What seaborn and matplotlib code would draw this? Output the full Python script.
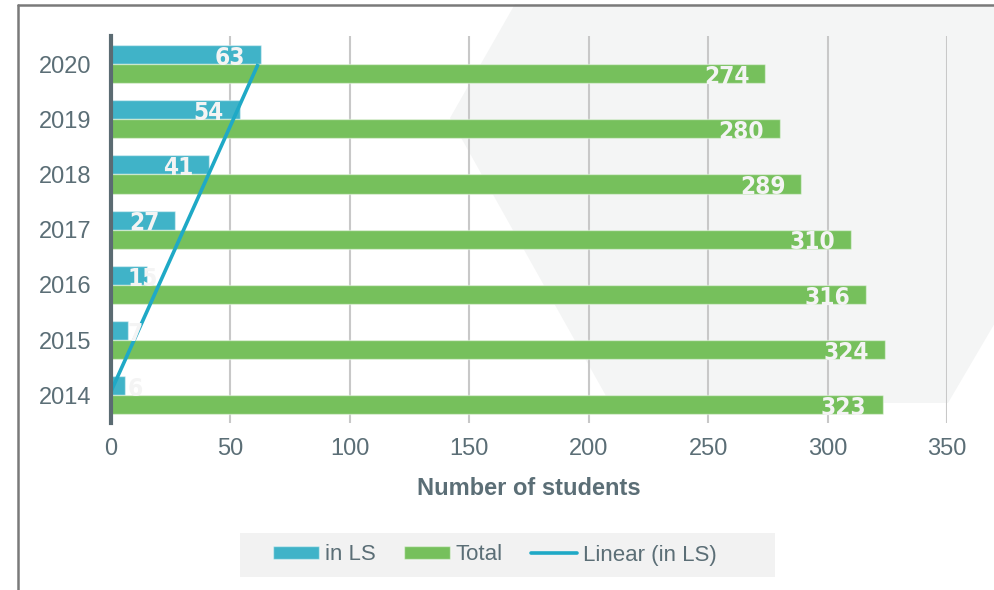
import numpy as np
import pandas as pd
import matplotlib
matplotlib.use("Agg")
import matplotlib.pyplot as plt
import seaborn as sns
from matplotlib import font_manager
from matplotlib.patches import Polygon, Rectangle, Patch
from matplotlib.lines import Line2D

# ---- data ----
years = ["2020", "2019", "2018", "2017", "2016", "2015", "2014"]
in_ls = [63, 54, 41, 27, 15, 7, 6]
total = [274, 280, 289, 310, 316, 324, 323]
series_names = ["in LS", "Total"]
trend_name = "Linear (in LS)"
x_ticks = [0, 50, 100, 150, 200, 250, 300, 350]
x_label = "Number of students"

BLUE = "#40B3C8"
GREEN = "#76C05C"
TREND = "#1FA9C6"
TXT = "#5B6E76"

sns.set_theme(style="white")
avail = {f.name for f in font_manager.fontManager.ttflist}
base_font = "Liberation Sans" if "Liberation Sans" in avail else "DejaVu Sans"
if "Liberation Sans Narrow" in avail:
    label_font = dict(family=["Liberation Sans Narrow", base_font])
else:
    label_font = dict(family=["DejaVu Sans"], stretch="condensed")
plt.rcParams["font.family"] = [base_font, "DejaVu Sans"]

W, H = 995, 590
fig = plt.figure(figsize=(W / 100, H / 100), dpi=100)
fig.patch.set_facecolor("white")

def fx(px):
    return px / W

def fy(py):
    return 1 - py / H

# background hexagon
hexpts = [(515, 4), (450, 118), (610, 403), (948, 403), (1182, 4)]
poly = Polygon([(fx(a), fy(b)) for a, b in hexpts], closed=True,
               transform=fig.transFigure, facecolor="#F4F5F5", edgecolor="none", zorder=-10)
fig.patches.append(poly)

# frame lines
fig.add_artist(Line2D([fx(18), fx(18)], [fy(5), fy(600)], transform=fig.transFigure,
                      color="#7A7A7A", lw=1.8, zorder=-5))
fig.add_artist(Line2D([fx(18), fx(1000)], [fy(5), fy(5)], transform=fig.transFigure,
                      color="#7A7A7A", lw=1.8, zorder=-5))

# legend box
fig.patches.append(Rectangle((fx(240), fy(577)), fx(775) - fx(240), fy(533) - fy(577),
                             transform=fig.transFigure, facecolor="#F2F2F2",
                             edgecolor="none", zorder=-4))

ax = fig.add_axes([fx(111), fy(423), fx(947) - fx(111), fy(36.4) - fy(423)])
ax.patch.set_alpha(0)

df = pd.DataFrame({
    "year": years * 2,
    "series": [series_names[0]] * len(years) + [series_names[1]] * len(years),
    "value": in_ls + total,
})

sns.barplot(data=df, y="year", x="value", hue="series", order=years,
            hue_order=series_names, palette=[BLUE, GREEN], orient="h",
            width=0.69, gap=0, ax=ax, legend=False, zorder=3,
            edgecolor=(1, 1, 1, 0.45), linewidth=1.0, saturation=1)

# linear trendline on in LS (year index 2014 -> 0)
t = np.arange(len(years))[::-1]  # 2020->6 ... 2014->0
coef = np.polyfit(t, np.array(in_ls), 1)
tt = np.array([0, len(years) - 1])
trend_x = np.polyval(coef, tt)
ypos = (len(years) - 1) - tt
ax.plot(trend_x, ypos, color=TREND, lw=2.6, zorder=4, solid_capstyle="butt")

ax.set_xlim(0, 350)
ax.set_ylim(len(years) - 0.5, -0.5)
ax.set_xticks(x_ticks)
ax.set_xticklabels([str(v) for v in x_ticks])
ax.grid(axis="x", color="#C8C8C8", lw=1.5, zorder=0)
ax.grid(axis="y", visible=False)
ax.set_axisbelow(True)
for s in ["top", "right", "bottom"]:
    ax.spines[s].set_visible(False)
ax.spines["left"].set_color("#5B6B72")
ax.spines["left"].set_linewidth(3)
ax.spines["left"].set_zorder(5)
ax.tick_params(axis="both", length=0, labelsize=17, labelcolor=TXT)
ax.tick_params(axis="x", pad=11)
ax.tick_params(axis="y", pad=14)
ax.set_ylabel("")
ax.set_xlabel(x_label, fontsize=17, fontweight="bold", color=TXT, labelpad=12)

# value labels
fig.canvas.draw()
renderer = fig.canvas.get_renderer()
ax_left_px = ax.transAxes.transform((0, 0))[0]
for cont, vals in zip(ax.containers, [in_ls, total]):
    for bar, v in zip(cont.patches, vals):
        yc = bar.get_y() + bar.get_height() / 2
        txt = ax.annotate(str(v), (bar.get_width(), yc), xytext=(-11.5, -0.5),
                          textcoords="offset points", ha="right", va="center_baseline",
                          fontsize=17.5, fontweight="bold", color="#F4F4F4",
                          zorder=6, **label_font)
        ext = txt.get_window_extent(renderer)
        if ext.x0 < ax_left_px + 17:
            txt.xy = (0, yc)
            txt.set_position((12.2, -0.5))
            txt.set_ha("left")

# legend
handles = [Patch(facecolor=BLUE, edgecolor=(1, 1, 1, 0.45)),
           Patch(facecolor=GREEN, edgecolor=(1, 1, 1, 0.45)),
           Line2D([0], [0], color=TREND, lw=2.6)]
leg = fig.legend(handles, series_names + [trend_name], loc="center",
                 bbox_to_anchor=(fx(495), fy(555)), ncol=3, frameon=False,
                 fontsize=16, handlelength=2.07, handleheight=0.55, handletextpad=0.27,
                 columnspacing=1.26, borderpad=0.5)
for tx in leg.get_texts():
    tx.set_color(TXT)

fig.savefig("out.png", dpi=100)
